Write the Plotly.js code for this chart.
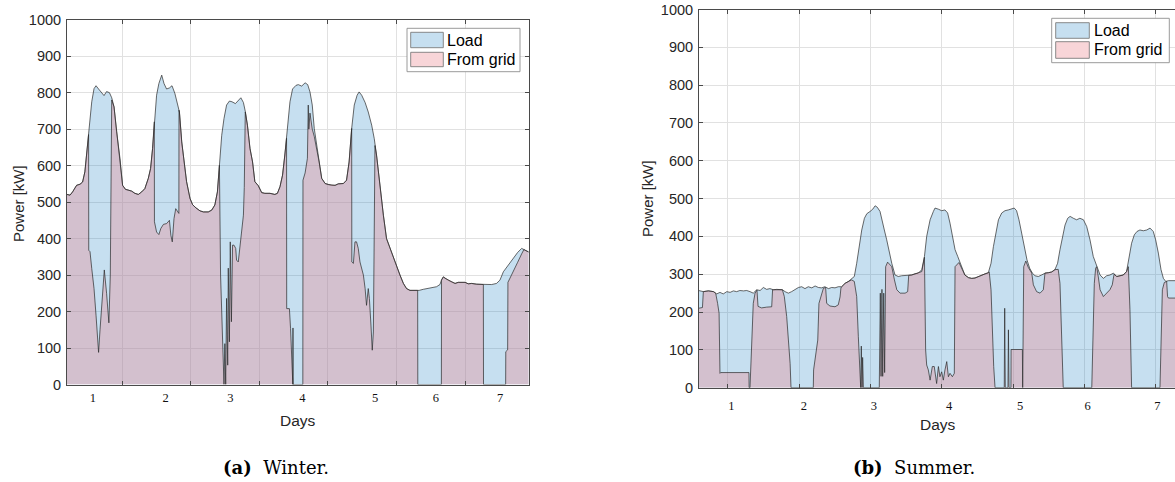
<!DOCTYPE html>
<html>
<head>
<meta charset="utf-8">
<script src="https://cdn.plot.ly/plotly-3.0.1.min.js"></script>
<style>
  html, body { margin: 0; padding: 0; background: #fff; width: 1175px; height: 482px; overflow: hidden; }
  #chart { width: 1182px; height: 482px; }
</style>
</head>
<body>
<div id="chart"></div>
<script>
// Power demand over one week, hours since the start of the record vs kW.

// ---- Winter week ----
const winterLoadHours = [4.6, 5.7, 6.6, 8.0, 9.2, 10.1, 10.9, 11.8, 12.5, 13.3,
  14.1, 14.8, 15.7, 16.8, 17.6, 18.5, 19.5, 20.3, 21.1, 22.0,
  23.2, 24.1, 25.1, 26.1, 27.3, 28.4, 29.6, 30.8, 31.9, 33.1,
  33.9, 34.6, 35.2, 36.0, 36.8, 37.8, 38.6, 39.5, 40.5, 41.4,
  42.4, 43.3, 44.0, 44.8, 45.6, 46.5, 47.7, 48.6, 49.8, 51.2,
  52.4, 54.1, 55.3, 56.4, 57.3, 58.0, 58.8, 59.6, 60.5, 61.5,
  62.4, 63.6, 64.6, 65.5, 66.4, 67.1, 67.8, 68.7, 69.6, 70.4,
  71.6, 72.8, 73.9, 75.7, 77.4, 78.3, 79.2, 80.1, 80.9, 81.8,
  82.7, 83.6, 84.8, 85.6, 86.8, 88.0, 88.9, 89.7, 90.5, 91.2,
  92.0, 92.9, 93.8, 95.0, 96.1, 97.3, 98.5, 99.6, 101.4, 102.5,
  103.4, 104.3, 105.2, 106.2, 106.9, 107.8, 109.0, 110.1, 111.3, 112.2,
  113.0, 114.2, 115.4, 116.5, 117.7, 118.9, 120.0, 121.2, 122.4, 123.5,
  124.7, 126.5, 127.9, 129.4, 131.1, 132.5, 134.0, 135.2, 135.8, 136.4,
  137.0, 138.1, 139.3, 140.5, 141.6, 142.8, 144.0, 145.1, 146.3, 148.0,
  149.8, 151.5, 153.3, 155.0, 156.2, 157.4, 159.1, 160.9, 162.4, 163.8,
  165.0, 166.1, 166.6];
const winterLoadKW = [521, 519, 528, 546, 549, 555, 583, 656, 711, 775,
  811, 819, 810, 798, 792, 803, 800, 786, 761, 693,
  619, 546, 535, 533, 530, 524, 521, 528, 537, 565,
  592, 647, 720, 793, 825, 848, 825, 810, 813, 819,
  798, 770, 747, 665, 610, 556, 510, 493, 484, 476,
  473, 473, 478, 492, 528, 601, 683, 729, 766, 777,
  775, 770, 777, 786, 773, 747, 711, 647, 610, 556,
  545, 526, 524, 524, 521, 524, 542, 574, 629, 702,
  775, 810, 820, 822, 818, 827, 822, 802, 766, 702,
  656, 610, 565, 551, 548, 546, 546, 550, 551, 560,
  610, 702, 766, 793, 802, 793, 773, 747, 711, 674,
  629, 537, 464, 400, 373, 350, 327, 300, 277, 263,
  258, 257, 258, 261, 263, 265, 268, 274, 288, 295,
  291, 286, 281, 277, 280, 281, 280, 276, 277, 275,
  274, 274, 274, 277, 286, 309, 327, 345, 362, 373,
  368, 364, 362];

// [hour, kW] drawn from the grid
const winterGrid = [[4.6,521],[5.7,519],[6.6,528],[8.0,546],[9.2,549],[10.1,555],[10.9,583],[11.8,656],
  [12.2,685],[12.25,368],[12.7,364],[13.3,318],[14.1,263],[14.8,190],[15.3,135],[15.7,88],[16.2,150],
  [16.8,220],[17.7,314],[18.5,250],[19.3,169],[19.8,300],[20.05,560],[20.3,780],[21.1,761],[22.0,693],
  [23.2,619],[24.1,546],[25.1,535],[26.1,533],[27.3,530],[28.4,524],[29.6,521],[30.8,528],[31.9,537],
  [33.1,565],[33.9,592],[34.6,647],[35.2,720],[35.25,446],[35.4,441],[36.0,418],[36.8,411],[37.5,428],
  [38.4,439],[39.5,441],[40.5,450],[41.0,409],[41.5,391],[42.1,455],[42.7,482],[43.3,473],[43.8,469],
  [43.85,752],[44.0,747],[44.8,665],[45.6,610],[46.5,556],[47.7,510],[48.6,493],[49.8,484],[51.2,476],
  [52.4,473],[54.1,473],[55.3,478],[56.4,492],[57.3,528],[58.0,601],[58.4,300],[59.1,144],[59.6,0],
  [59.9,112],[60.2,0],[60.5,236],[60.9,53],[61.1,319],[61.5,117],[61.8,391],[62.2,172],[62.6,382],
  [63.1,382],[63.7,373],[64.0,341],[64.6,336],[65.2,382],[65.8,418],[66.4,464],[66.7,540],[67.05,747],
  [67.8,711],[68.7,647],[69.6,610],[70.4,556],[71.6,545],[72.8,526],[73.9,524],[75.7,524],[77.4,521],
  [78.3,524],[79.2,542],[80.1,574],[80.9,629],[81.5,675],[81.55,208],[82.5,208],[82.9,153],[83.5,0],
  [83.7,0],[83.75,155],[83.8,0],[87.2,0],[87.25,560],[88.0,580],[88.8,620],[89.1,766],[89.3,700],
  [89.7,744],[90.0,720],[90.5,700],[91.2,680],[92.0,650],[92.9,610],[93.8,565],[95.0,551],[96.1,548],
  [97.3,546],[98.5,546],[99.6,550],[101.4,551],[102.5,560],[103.4,610],[104.3,702],[104.35,336],
  [104.9,332],[105.45,391],[106.0,391],[106.6,373],[107.2,336],[107.8,318],[108.4,300],[109.0,263],
  [109.5,217],[110.1,263],[110.5,236],[111.05,163],[111.5,94],[111.9,144],[112.2,373],[112.45,655],
  [113.0,629],[114.2,537],[115.4,464],[116.5,400],[117.7,373],[118.9,350],[120.0,327],[121.2,300],
  [122.4,277],[123.5,263],[124.7,258],[126.5,257],[127.4,258],[127.45,0],[135.7,0],[135.75,286],
  [136.4,295],[137.0,291],[138.1,286],[139.3,281],[140.5,277],[141.6,280],[142.8,281],[144.0,280],
  [145.1,276],[146.3,277],[148.0,275],[149.8,274],[150.4,274],[150.45,0],[158.2,0],[158.25,90],
  [158.9,95],[159.0,280],[159.8,292],[161.0,310],[162.4,335],[163.8,358],[164.6,370],[165.0,368],
  [166.1,364],[166.6,362]];

// ---- Summer week ----
const summerLoad = [[14.2,257],[15.8,254],[17.5,256],[19.2,254],[20.3,248],[21.4,252],[22.5,248],[23.7,254],
  [24.8,252],[25.9,256],[27.0,254],[28.1,257],[29.3,256],[30.4,257],[31.5,254],[32.6,250],[33.75,259],
  [34.9,257],[36.0,265],[37.1,260],[38.2,262],[39.4,259],[40.5,260],[41.6,259],[42.4,259],[43.3,254],
  [44.4,250],[45.5,254],[46.65,259],[47.8,265],[48.9,267],[50.0,262],[51.1,267],[52.3,264],[53.4,269],
  [54.5,265],[55.6,264],[56.7,267],[57.9,262],[59.0,265],[60.1,264],[61.2,267],[62.35,267],[63.5,276],
  [64.6,281],[65.7,287],[66.6,294],[67.4,329],[68.2,373],[69.1,417],[70.0,448],[70.8,460],[71.9,466],
  [72.8,472],[73.6,481],[74.35,477],[75.25,466],[75.8,444],[76.7,417],[77.5,391],[78.3,360],[79.2,329],
  [80.3,298],[81.4,294],[82.5,296],[83.7,296],[84.8,297],[85.9,298],[87.0,301],[88.15,303],[89.3,312],
  [90.2,347],[90.95,400],[92.1,444],[93.2,466],[93.75,475],[94.9,472],[96.0,468],[97.1,470],[98.0,462],
  [98.8,435],[99.6,400],[100.5,365],[101.4,347],[102.2,331],[102.95,312],[103.8,298],[105.0,291],
  [106.1,289],[107.2,290],[108.3,294],[109.45,297],[110.6,301],[111.7,304],[112.6,329],[113.4,373],
  [114.2,409],[115.1,444],[116.2,462],[117.3,468],[118.4,470],[119.55,472],[120.4,475],[121.2,468],
  [122.0,444],[122.9,409],[123.8,373],[124.7,338],[125.6,316],[126.5,303],[127.4,296],[128.5,294],
  [129.6,298],[130.8,303],[131.9,304],[133.0,306],[134.1,312],[135.0,329],[135.8,365],[136.6,400],
  [137.5,430],[138.4,448],[139.2,453],[140.3,448],[141.4,444],[142.5,448],[143.7,444],[144.8,426],
  [145.9,391],[147.0,347],[148.15,320],[149.3,298],[150.4,289],[151.5,296],[152.6,298],[153.8,303],
  [154.9,294],[156.0,296],[157.1,298],[158.2,307],[159.1,347],[159.9,382],[160.8,404],[161.7,413],
  [162.7,417],[163.85,415],[165.0,417],[166.1,422],[167.2,413],[168.0,391],[168.9,356],[169.8,312],
  [170.6,289],[171.4,281],[172.3,283],[173.4,283],[174.5,283],[176.0,283]];

const summerGrid = [[14.2,210],[15.5,212],[15.8,254],[17.5,256],[19.2,254],[19.95,250],[20.6,223],[21.1,197],
  [21.4,38],[21.65,40],[31.15,40],[31.2,0],[31.5,0],[32.1,135],[32.6,223],[33.2,250],[33.85,258],
  [34.2,215],[35.4,211],[37.1,213],[38.8,214],[39.1,259],[40.5,260],[41.6,259],[42.4,259],[43.05,241],
  [43.85,188],[44.4,135],[45.0,64],[45.3,0],[52.8,0],[52.9,47],[53.15,64],[53.6,82],[54.3,126],
  [54.7,223],[55.4,241],[56.2,263],[56.95,265],[57.3,223],[58.4,216],[60.1,214],[61.2,219],[61.8,240],
  [62.1,264],[62.35,267],[63.5,276],[64.6,281],[65.7,285],[66.6,281],[67.4,241],[67.95,135],[68.5,11],
  [68.75,0],[68.95,110],[69.2,0],[69.4,80],[69.65,0],[75.0,0],[75.35,250],[75.6,30],[75.9,260],
  [76.15,30],[76.5,250],[76.8,40],[77.15,320],[77.8,332],[78.6,326],[79.2,320],[80.1,285],[80.9,259],
  [82.0,250],[83.7,250],[84.55,254],[84.9,297],[85.9,298],[87.0,301],[88.15,303],[89.3,307],[90.2,345],
  [90.6,100],[90.95,60],[91.5,47],[92.1,20],[92.85,56],[93.5,56],[94.3,11],[94.9,56],[95.4,29],
  [96.0,42],[96.55,20],[97.1,47],[97.7,69],[98.25,29],[98.8,38],[99.6,29],[100.25,38],[100.5,320],
  [101.0,325],[101.8,331],[102.95,312],[103.8,298],[105.0,291],[106.1,289],[107.2,290],[108.3,294],
  [109.45,297],[110.6,301],[111.7,304],[112.0,306],[112.6,259],[113.05,144],[113.5,56],[113.95,0],
  [117.05,0],[117.2,210],[117.4,0],[118.3,0],[118.45,153],[118.65,0],[119.3,0],[119.35,101],
  [123.15,101],[123.25,0],[123.6,320],[124.3,335],[125.15,318],[126.3,303],[126.85,272],[127.95,254],
  [129.1,250],[130.2,259],[130.75,303],[131.9,304],[133.0,306],[134.1,312],[135.2,313],[135.8,276],
  [136.4,144],[136.9,0],[146.5,0],[147.0,135],[147.35,276],[147.8,316],[148.15,320],[148.7,293],
  [149.3,259],[150.4,241],[151.5,250],[152.6,259],[153.4,272],[154.0,300],[154.9,294],[156.0,296],
  [157.1,298],[158.2,307],[158.8,320],[159.35,206],[159.9,0],[169.45,0],[169.8,144],[170.25,259],
  [170.9,278],[171.7,281],[172.0,241],[172.3,237],[174.5,237],[176.0,237]];

// ---- Axes text ----
const seriesNames = ['Load', 'From grid'];
const dayNames = ['1', '2', '3', '4', '5', '6', '7'];
const winterDayLabelHours = [13.7, 39.2, 61.8, 87.0, 112.5, 133.8, 156.3];
const summerDayLabelHours = [25.2, 49.6, 73.2, 98.5, 122.4, 145.1, 168.6];
const dayBoundaryHours = [24, 48, 72, 96, 120, 144, 168];
const powerTicks = [0, 100, 200, 300, 400, 500, 600, 700, 800, 900, 1000];

// ---- Page geometry (pixels -> paper fractions) ----
const W = 1182, H = 482;
const px = v => v / W;
const py = v => 1 - v / H;

const ink = '#262626';
const frame = '#4a4a4a';
const loadFill = 'rgba(10,115,190,0.23)';
const gridFill = 'rgba(235,135,144,0.35)';
const edge = '#2a2a2a';
const sans = 'Liberation Sans, Arial, Helvetica, sans-serif';
const serif = 'Liberation Serif, Times New Roman, serif';
const captionSerif = 'DejaVu Serif, serif';

const xs = pts => pts.map(p => p[0]);
const ys = pts => pts.map(p => p[1]);

function area(x, y, name, fill, xa, ya) {
  return {
    type: 'scatter', mode: 'lines', x, y, name,
    fill: 'tozeroy', fillcolor: fill,
    line: { color: edge, width: 0.7 },
    xaxis: xa, yaxis: ya, showlegend: false, hoverinfo: 'skip'
  };
}
const labelHolder = (xa, ya) => ({ type: 'scatter', x: [], y: [], xaxis: xa, yaxis: ya, showlegend: false, hoverinfo: 'skip' });

const traces = [
  area(winterLoadHours, winterLoadKW, seriesNames[0], loadFill, 'x', 'y'),
  area(xs(winterGrid), ys(winterGrid), seriesNames[1], gridFill, 'x', 'y'),
  area(xs(summerLoad), ys(summerLoad), seriesNames[0], loadFill, 'x2', 'y2'),
  area(xs(summerGrid), ys(summerGrid), seriesNames[1], gridFill, 'x2', 'y2'),
  labelHolder('x3', 'y'),
  labelHolder('x4', 'y2')
];

function frameAxis(extra) {
  return Object.assign({
    ticks: 'inside', ticklen: 4, tickwidth: 1, tickcolor: frame,
    showline: true, linecolor: frame, linewidth: 1, mirror: 'ticks',
    showgrid: true, gridcolor: '#e1e1e1', gridwidth: 1, zeroline: false,
    fixedrange: true
  }, extra);
}
function powerAxis(extra) {
  return frameAxis(Object.assign({
    range: [0, 1000], tickmode: 'array', tickvals: powerTicks,
    ticktext: powerTicks.map(String),
    tickfont: { family: sans, size: 14.5, color: ink }, ticklabelstandoff: 2
  }, extra));
}
function dayLabelAxis(extra) {
  return Object.assign({
    tickmode: 'array', ticktext: dayNames, ticks: '', showline: false,
    showgrid: false, zeroline: false, fixedrange: true,
    tickfont: { family: serif, size: 12.5, color: '#111' }
  }, extra);
}

const winterRange = [4.64, 166.2];
const summerRange = [14.34, 175.85];

// Hand-drawn legend: framed box with two swatches
function legendParts(box, swatch, rows, textX) {
  const shapes = [{
    type: 'rect', xref: 'paper', yref: 'paper', layer: 'above',
    x0: px(box[0]), x1: px(box[1]), y0: py(box[3]), y1: py(box[2]),
    line: { color: '#8f8f8f', width: 0.9 }, fillcolor: '#ffffff'
  }];
  const fills = [loadFill, gridFill];
  const annotations = [];
  rows.forEach((r, i) => {
    shapes.push({
      type: 'rect', xref: 'paper', yref: 'paper', layer: 'above',
      x0: px(swatch[0]), x1: px(swatch[1]), y0: py(r[1]), y1: py(r[0]),
      line: { color: '#7d7d7d', width: 0.9 }, fillcolor: fills[i]
    });
    annotations.push({
      xref: 'paper', yref: 'paper', x: px(textX), y: py((r[0] + r[1]) / 2),
      xanchor: 'left', yanchor: 'middle', showarrow: false, text: seriesNames[i],
      font: { family: sans, size: 16, color: '#000' }
    });
  });
  return { shapes, annotations };
}
const winterLegend = legendParts([407, 520, 28.3, 71.7], [410.7, 443.3], [[32.3, 47.7], [52.3, 66.7]], 445);
const summerLegend = legendParts([1051.7, 1169.3, 18.3, 62.7], [1055.7, 1089.3], [[22.7, 38.3], [41.7, 58.3]], 1091.5);

function note(x, y, text, size, family, extra) {
  return Object.assign({
    xref: 'paper', yref: 'paper', x: px(x), y: py(y), text, showarrow: false,
    xanchor: 'center', yanchor: 'middle', font: { family, size, color: ink }
  }, extra || {});
}

const annotations = [
  note(18, 204, 'Power [kW]', 15, sans, { textangle: -90 }),
  note(647, 199, 'Power [kW]', 15, sans, { textangle: -90 }),
  note(297.7, 420, 'Days', 15.5, sans),
  note(938.5, 424, 'Days', 15.5, sans),
  note(275.5, 467, '<b>(a)</b>\u00a0\u00a0Winter.', 18, captionSerif, { font: { family: captionSerif, size: 18, color: '#000' } }),
  note(914, 467, '<b>(b)</b>\u00a0\u00a0Summer.', 18, captionSerif, { font: { family: captionSerif, size: 18, color: '#000' } })
].concat(winterLegend.annotations, summerLegend.annotations);

const layout = {
  width: W, height: H,
  margin: { l: 0, r: 0, t: 0, b: 0, pad: 0 },
  paper_bgcolor: '#ffffff', plot_bgcolor: '#ffffff',
  showlegend: false,
  xaxis: frameAxis({ domain: [px(67), px(528.5)], range: winterRange, anchor: 'y',
    tickmode: 'array', tickvals: dayBoundaryHours, showticklabels: false }),
  yaxis: powerAxis({ domain: [py(384.5), py(19.7)], anchor: 'x' }),
  xaxis3: dayLabelAxis({ overlaying: 'x', anchor: 'y', side: 'bottom', range: winterRange,
    tickvals: winterDayLabelHours, ticklabelstandoff: 4 }),
  xaxis2: frameAxis({ domain: [px(699), px(1179)], range: summerRange, anchor: 'y2',
    tickmode: 'array', tickvals: dayBoundaryHours, showticklabels: false }),
  yaxis2: powerAxis({ domain: [py(387.7), py(9.5)], anchor: 'x2' }),
  xaxis4: dayLabelAxis({ overlaying: 'x2', anchor: 'y2', side: 'bottom', range: summerRange,
    tickvals: summerDayLabelHours, ticklabelstandoff: 9 }),
  shapes: winterLegend.shapes.concat(summerLegend.shapes),
  annotations
};

Plotly.newPlot('chart', traces, layout, { staticPlot: true, displayModeBar: false });
</script>
</body>
</html>
